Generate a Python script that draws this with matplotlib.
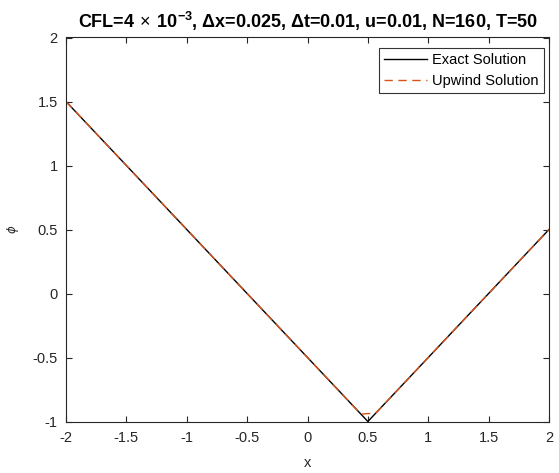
import matplotlib
matplotlib.use("Agg")
import matplotlib.pyplot as plt

plt.rcParams['font.family'] = ['Liberation Sans', 'DejaVu Sans']
plt.rcParams['mathtext.fontset'] = 'custom'
plt.rcParams['mathtext.rm'] = 'Liberation Sans'
plt.rcParams['mathtext.bf'] = 'Liberation Sans:bold'

# Exact solution: breakpoints of the V-shaped profile
exact_x = [-2.0, 0.5, 2.0]
exact_phi = [1.5, -1.0, 0.5]

# Upwind solution: slightly smoothed near the corner by numerical diffusion
upwind_x = [-2.0, 0.4, 0.425, 0.45, 0.475, 0.5, 0.525, 0.55, 0.575, 0.6, 2.0]
upwind_phi = [1.5, -0.9, -0.923, -0.942, -0.94, -0.938, -0.938, -0.942, -0.924, -0.9, 0.5]

xticks = [-2, -1.5, -1, -0.5, 0, 0.5, 1, 1.5, 2]
yticks = [-1, -0.5, 0, 0.5, 1, 1.5, 2]

fig = plt.figure(figsize=(5.59, 4.73), dpi=100)
ax = fig.add_axes([66 / 559, 51.5 / 473, 483 / 559, 384 / 473])

ax.plot(exact_x, exact_phi, color='black', lw=1.0, label='Exact Solution')
ax.plot(upwind_x, upwind_phi, color='#D95319', lw=1.0, ls=(0, (6, 4)), label='Upwind Solution')

ax.set_xlim(-2, 2)
ax.set_ylim(-1, 2)
ax.set_xticks(xticks)
ax.set_xticklabels([f'{t:g}' for t in xticks])
ax.set_yticks(yticks)
ax.set_yticklabels([f'{t:g}' for t in yticks])

axis_color = '#262626'
for sp in ax.spines.values():
    sp.set_color(axis_color)
    sp.set_linewidth(0.8)
ax.tick_params(direction='in', length=4, width=0.8, colors=axis_color,
               labelsize=10.5, top=True, right=True, labeltop=False, labelright=False)
ax.tick_params(axis='x', pad=7)
ax.tick_params(axis='y', pad=6)
for lbl in ax.get_xticklabels() + ax.get_yticklabels():
    lbl.set_color(axis_color)

ax.set_xlabel('x', fontsize=10.5, color=axis_color, labelpad=8)
ax.set_ylabel('ϕ', fontsize=8.5, color=axis_color, family=['DejaVu Sans'],
              style='italic', labelpad=10)
ax.set_title('CFL=4$\\,\\times\\,$10$^{\\mathbf{-3}}$, Δx=0.025, Δt=0.01, u=0.01, N=160, T=50',
             fontsize=13, fontweight='bold', pad=7)

leg = ax.legend(loc='upper right', bbox_to_anchor=(0.9896, 0.973), borderaxespad=0,
                fontsize=10.5, handlelength=2.9, frameon=True, fancybox=False,
                borderpad=0.35, labelspacing=0.5, handletextpad=0.4)
leg.get_frame().set_edgecolor('black')
leg.get_frame().set_linewidth(0.8)

fig.savefig('out.png', dpi=100)
